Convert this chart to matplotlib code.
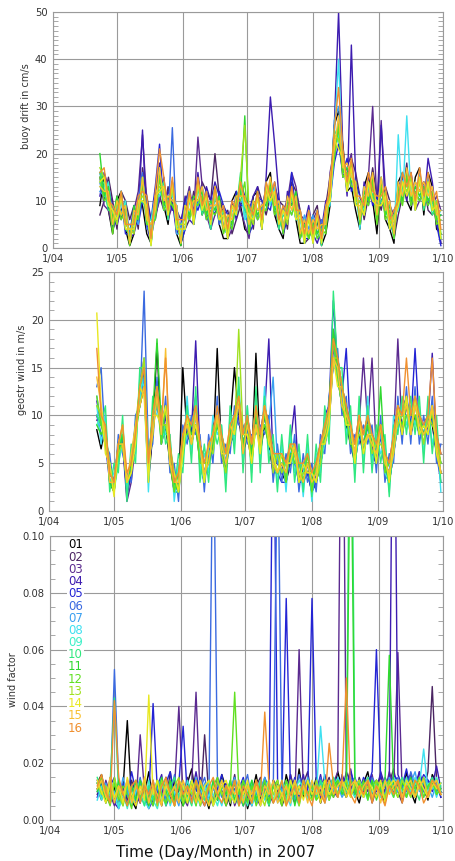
import numpy as np
import pandas as pd
import matplotlib
matplotlib.use("Agg")
import matplotlib.pyplot as plt
from matplotlib.ticker import MultipleLocator, FormatStrFormatter

# ---------------- data ----------------
dates = pd.date_range("2007-04-23", "2007-10-01", freq="2D")   # 81 samples
month_ticks = ["2007-04-01", "2007-05-01", "2007-06-01", "2007-07-01",
               "2007-08-01", "2007-09-01", "2007-10-01"]
month_labels = ["1/04", "1/05", "1/06", "1/07", "1/08", "1/09", "1/10"]
buoy_ids = ["01", "02", "03", "04", "05", "06", "07", "08",
            "09", "10", "11", "12", "13", "14", "15", "16"]
buoy_colors = ["#000000", "#4b2563", "#5b2a90", "#3d1cb0", "#2424d4", "#3b6ae0",
               "#3aa0f0", "#3ee0f0", "#3ef0c8", "#30e880", "#30d830", "#60e020",
               "#a0e020", "#e8e820", "#f8c030", "#f09030"]

# buoy drift (cm/s)
d01 = [9, 15, 8, 3, 10, 12, 4, 0.5, 3, 11,
       9, 3, 1, 12, 16, 9, 5, 14, 3, 0.5,
       10, 12, 5, 15, 7, 10, 4, 13, 5, 2,
       2, 10, 12, 9, 4, 3, 11, 12, 4, 14,
       16, 7, 4, 2, 11, 13, 6, 1, 1, 8,
       2, 6, 0.5, 3, 9, 26, 29, 22, 12, 13,
       8, 4, 13, 16, 10, 3, 15, 6, 4, 1,
       14, 16, 10, 8, 15, 17, 7, 16, 13, 4,
       3]
d02 = [7, 10, 15, 10, 4, 12, 10, 6, 9, 4,
       17, 11, 6, 6, 11, 8, 13, 8, 9, 1,
       4, 6, 12, 9, 14, 12, 10, 20, 11, 7,
       8, 3, 6, 9, 11, 9, 4, 13, 10, 7,
       11, 13, 10, 9, 4, 14, 12, 8, 1, 2,
       7, 9, 1, 9, 15, 19, 26, 17, 18, 19,
       16, 11, 6, 11, 17, 11, 8, 13, 10, 2,
       7, 11, 18, 9, 14, 12, 14, 8, 7, 9,
       1]
d03 = [15, 9, 8, 4, 11, 6, 9, 1, 8, 12,
       24, 10, 2, 7, 10, 15, 6, 9, 8, 6,
       9, 13, 7, 23.5, 13, 7, 4, 7, 10, 9,
       2, 4, 11, 8, 5, 2, 10, 6, 9, 12,
       13, 8, 5, 8, 10, 16, 13, 7, 6, 3,
       6, 8, 5, 4, 16, 21, 24, 15, 17, 20,
       9, 10, 7, 15, 30, 9, 27, 7, 9, 7,
       8, 13, 13, 15, 8, 10, 12, 15, 9, 11,
       8]
d04 = [11, 16, 13, 9, 5, 8, 10, 2, 3, 7,
       25, 5, 1, 12, 18, 9, 12, 10, 3, 5,
       11, 6, 5, 16, 8, 13, 10, 14, 11, 4,
       3, 10, 6, 14, 11, 8, 11, 13, 4, 15,
       32, 22, 11, 3, 12, 9, 11, 2, 5, 9,
       3, 1, 4, 10, 11, 26, 50, 21, 11, 43,
       15, 5, 14, 9, 14, 6, 26, 12, 4, 6,
       13, 15, 10, 16, 10, 15, 9, 19, 14, 6,
       1]
d05 = [14, 10, 12, 4, 6, 11, 3, 3, 9, 5,
       10, 10, 6, 13, 22, 8, 11, 8, 9, 1,
       4, 11, 10, 8, 11, 6, 9, 7, 12, 9,
       7, 5, 12, 9, 9, 3, 5, 11, 10, 9,
       8, 14, 9, 3, 6, 16, 7, 7, 2, 2,
       5, 7, 1, 9, 10, 18, 22, 16, 19, 12,
       14, 11, 8, 14, 9, 11, 9, 10, 4, 8,
       10, 13, 16, 10, 13, 12, 14, 9, 12, 5,
       0.5]
d06 = [16, 12, 9, 9, 6, 12, 5, 5, 4, 10,
       16, 4, 5, 7, 11, 13, 6, 25.5, 4, 4,
       9, 12, 5, 10, 13, 7, 9, 12, 5, 7,
       6, 9, 7, 14, 6, 8, 10, 8, 8, 13,
       10, 11, 4, 9, 6, 12, 6, 8, 2, 7,
       6, 3, 6, 4, 13, 19, 27, 15, 16, 14,
       10, 10, 7, 13, 10, 9, 10, 12, 5, 3,
       13, 10, 15, 9, 12, 10, 13, 10, 12, 7,
       7]
d07 = [12, 11, 12, 5, 9, 7, 8, 2, 7, 5,
       13, 9, 1, 10, 12, 14, 7, 14, 3, 3,
       4, 10, 7, 14, 8, 10, 4, 11, 9, 4,
       7, 4, 10, 10, 9, 4, 9, 6, 9, 8,
       13, 8, 10, 4, 9, 7, 11, 3, 7, 4,
       7, 2, 4, 7, 10, 27, 30, 20, 14, 17,
       13, 5, 12, 10, 15, 7, 14, 7, 10, 3,
       11, 16, 14, 14, 9, 16, 9, 15, 8, 10,
       2]
d08 = [13, 14, 9, 8, 6, 10, 5, 4, 5, 10,
       10, 8, 4, 7, 17, 8, 11, 11, 9, 2,
       9, 7, 10, 9, 12, 7, 9, 8, 10, 4,
       3, 8, 7, 13, 6, 8, 6, 11, 5, 14,
       9, 13, 5, 8, 7, 12, 6, 6, 1, 8,
       2, 7, 1, 8, 9, 24, 40, 17, 17, 15,
       14, 4, 13, 11, 14, 6, 15, 7, 8, 2,
       24, 10, 28, 11, 14, 11, 12, 10, 11, 6,
       8]
d09 = [14, 11, 14, 6, 9, 7, 10, 1, 8, 7,
       15, 5, 6, 11, 11, 13, 8, 13, 4, 5,
       6, 11, 6, 14, 8, 12, 5, 13, 6, 8,
       3, 9, 7, 15, 7, 8, 7, 11, 5, 13,
       10, 12, 6, 8, 6, 12, 7, 7, 2, 7,
       2, 8, 1, 9, 10, 20, 24, 20, 13, 18,
       10, 10, 8, 13, 11, 10, 9, 11, 5, 7,
       8, 14, 13, 14, 10, 15, 9, 14, 9, 10,
       3]
d10 = [16, 12, 8, 8, 6, 12, 4, 3, 4, 9,
       10, 8, 0.5, 11, 12, 14, 6, 14, 4, 4,
       4, 12, 5, 13, 7, 10, 4, 12, 6, 7,
       2, 9, 8, 16, 8, 7, 6, 12, 4, 12,
       11, 11, 4, 7, 6, 11, 6, 7, 1, 7,
       1, 7, 0.5, 8, 11, 25, 23, 19, 12, 17,
       9, 10, 7, 14, 11, 9, 10, 10, 4, 6,
       9, 13, 12, 14, 8, 15, 8, 13, 7, 9,
       2]
d11 = [20, 11, 13, 6, 11, 7, 9, 1, 9, 6,
       15, 6, 5, 8, 16, 9, 11, 9, 8, 0.5,
       9, 7, 11, 10, 12, 7, 10, 8, 11, 4,
       7, 5, 11, 11, 28, 5, 10, 7, 9, 9,
       14, 8, 9, 4, 10, 9, 12, 3, 5, 2,
       6, 3, 5, 4, 14, 20, 26, 16, 17, 14,
       14, 6, 12, 10, 15, 6, 14, 7, 9, 3,
       13, 10, 16, 10, 13, 11, 13, 10, 12, 6,
       7]
d12 = [15, 10, 11, 3, 10, 6, 8, 0.5, 7, 6,
       14, 5, 5, 6, 15, 8, 10, 9, 7, 1,
       9, 6, 10, 9, 11, 6, 8, 7, 9, 3,
       6, 4, 10, 10, 14, 3, 9, 6, 8, 8,
       13, 7, 9, 3, 9, 7, 10, 2, 5, 2,
       5, 2, 4, 3, 13, 19, 26, 15, 16, 13,
       13, 5, 11, 9, 14, 5, 13, 6, 8, 2,
       12, 9, 15, 9, 12, 10, 12, 9, 11, 5,
       6]
d13 = [17, 15, 10, 8, 5, 11, 5, 4, 3, 10,
       11, 9, 1, 11, 13, 13, 7, 13, 5, 5,
       5, 11, 6, 14, 9, 11, 6, 13, 7, 8,
       3, 9, 8, 15, 26, 8, 5, 11, 5, 12,
       10, 12, 6, 8, 5, 12, 7, 8, 2, 6,
       2, 7, 2, 8, 10, 24, 23, 20, 13, 18,
       10, 10, 7, 14, 10, 10, 9, 12, 5, 7,
       9, 14, 12, 15, 9, 14, 9, 14, 8, 10,
       3]
d14 = [14, 15, 9, 8, 6, 11, 4, 4, 4, 10,
       10, 9, 0.5, 11, 12, 13, 7, 14, 4, 4,
       4, 11, 5, 14, 8, 11, 5, 12, 6, 7,
       2, 9, 7, 14, 9, 7, 6, 11, 4, 13,
       10, 12, 5, 8, 6, 12, 6, 7, 1, 7,
       1, 7, 1, 8, 10, 23, 21, 19, 12, 17,
       9, 9, 7, 14, 10, 9, 9, 11, 4, 6,
       9, 14, 11, 14, 8, 15, 9, 14, 8, 9,
       2]
d15 = [13, 12, 12, 5, 10, 7, 9, 1, 8, 7,
       15, 6, 5, 8, 17, 10, 11, 10, 9, 1,
       9, 8, 10, 10, 13, 8, 9, 9, 10, 4,
       7, 6, 11, 11, 11, 5, 10, 8, 9, 10,
       15, 9, 10, 4, 11, 8, 11, 3, 6, 3,
       6, 4, 5, 5, 15, 21, 28, 17, 18, 15,
       14, 6, 13, 11, 16, 7, 15, 8, 10, 3,
       14, 11, 17, 11, 14, 12, 14, 11, 13, 7,
       8]
d16 = [16, 17, 10, 9, 7, 12, 5, 5, 5, 11,
       12, 11, 2, 12, 21, 15, 8, 15, 6, 6,
       6, 12, 7, 15, 9, 12, 6, 13, 7, 9,
       4, 10, 8, 14, 10, 9, 7, 12, 6, 14,
       11, 14, 6, 9, 7, 13, 8, 8, 3, 8,
       3, 8, 2, 9, 12, 25, 34, 21, 14, 19,
       11, 11, 9, 16, 12, 11, 11, 13, 6, 8,
       10, 16, 13, 16, 10, 17, 11, 16, 10, 12,
       4]

# geostrophic wind (m/s)
w01 = [8.5, 6.5, 9, 3, 2, 6, 8, 2, 5, 9,
       11, 13, 3, 8, 17.5, 7, 9, 5, 2, 2,
       15, 8, 7, 9, 5, 3, 7, 6, 17, 6,
       4, 9, 15, 10, 6, 8, 5, 16.5, 6, 9,
       7, 4, 6, 4, 3, 5, 7, 3, 5, 4,
       2, 3, 5, 7, 9, 16, 14, 11, 9, 7,
       5, 8, 6, 10, 6, 5, 9, 4, 3, 6,
       9, 10, 12, 8, 10, 8, 9, 10, 9, 6,
       4]
w02 = [9.5, 10, 7, 4, 3, 7, 8, 2, 4, 8,
       12, 15, 5, 10, 11, 9, 11, 7, 3, 4,
       8, 10, 9, 11, 7, 5, 5, 8, 11, 8,
       6, 8, 10, 12, 8, 10, 7, 11, 8, 11,
       9, 6, 5, 6, 5, 7, 6, 5, 4, 6,
       3, 5, 7, 9, 11, 18, 16, 13, 11, 9,
       7, 10, 8, 10, 8, 7, 9, 6, 5, 8,
       11, 9, 10, 10, 12, 10, 9, 8, 11, 8,
       6]
w03 = [10, 9, 8, 5, 3, 6, 7, 1, 3, 7,
       13, 16, 4, 9, 12, 8, 10, 6, 2, 3,
       6, 9, 9, 12, 6, 4, 6, 7, 10, 7,
       5, 7, 9, 11, 7, 9, 6, 10, 7, 10,
       8, 5, 4, 5, 3, 6, 6, 4, 3, 5,
       2, 4, 6, 8, 10, 17, 15, 12, 10, 8,
       6, 9, 16, 9, 16, 6, 8, 5, 4, 7,
       18, 8, 11, 9, 10, 9, 7, 9, 10, 7,
       5]
w04 = [11.5, 9, 8, 4, 3, 6, 8, 1.5, 4, 9,
       11, 15, 4, 8, 13, 8, 9, 6, 3, 2,
       7, 10, 8, 17.8, 6, 3, 6, 8, 9, 7,
       5, 7, 8, 10, 7, 9, 6, 9, 7, 10,
       18, 5, 5, 4, 4, 7, 11, 3, 4, 5,
       3, 4, 6, 8, 10, 19, 16, 12, 11, 8,
       6, 10, 7, 9, 7, 5, 8, 5, 3, 7,
       11, 10, 12, 9, 11, 10, 8, 9, 16.5, 7,
       4]
w05 = [10, 8, 7, 3, 2.5, 6, 7, 2, 4, 8,
       12, 14, 4, 9, 12, 8, 10, 6, 2, 3,
       7, 9, 8, 10, 6, 4, 5, 7, 10, 7,
       4, 8, 9, 11, 6, 9, 5, 10, 7, 10,
       8, 4, 4, 3, 3, 6, 5, 3, 3, 4,
       2, 3, 5, 10, 11, 22, 15, 12, 17, 8,
       5, 9, 6, 9, 6, 5, 8, 4, 3, 6,
       10, 8, 11, 9, 17, 9, 8, 8, 10, 6,
       3]
w06 = [13, 15, 7, 6, 2, 8, 6, 4, 3, 10,
       11, 23, 6, 7, 14, 7, 12, 4, 5, 1,
       9, 7, 10, 8, 8, 2, 8, 5, 12, 5,
       7, 6, 11, 9, 9, 7, 8, 8, 9, 8,
       10, 3, 7, 3, 6, 4, 8, 2, 6, 3,
       5, 2, 8, 6, 12, 15, 17, 10, 12, 6,
       8, 7, 9, 7, 9, 4, 10, 3, 6, 5,
       12, 7, 13, 7, 13, 7, 10, 7, 12, 5,
       7]
w07 = [12, 9, 8, 4, 3, 7, 8, 3, 5, 8,
       12, 14, 5, 9, 11, 8, 9, 7, 3, 2,
       8, 9, 7, 10, 6, 4, 6, 7, 11, 8,
       5, 8, 10, 11, 7, 9, 6, 11, 8, 10,
       9, 14, 5, 5, 4, 6, 7, 4, 4, 5,
       3, 4, 6, 8, 10, 16, 14, 12, 10, 8,
       6, 9, 7, 9, 8, 6, 8, 5, 4, 7,
       10, 9, 10, 9, 11, 9, 8, 10, 10, 7,
       5]
w08 = [11, 7, 10, 3, 4, 5, 9, 2, 6, 6,
       14, 13, 2, 11, 10, 10, 8, 8, 1, 5,
       5, 12, 6, 12, 4, 6, 4, 10, 8, 9,
       3, 10, 7, 13, 5, 11, 4, 12, 5, 13,
       6, 7, 3, 7, 2, 8, 4, 6, 1.5, 7,
       1, 6, 4, 10, 8, 19, 14, 14, 8, 10,
       4, 11, 5, 12, 5, 8, 6, 7, 2, 10,
       9, 11, 9, 11, 9, 11, 6, 11, 7, 9,
       2]
w09 = [9, 10, 7, 5, 2, 5, 7, 3, 5, 9,
       11, 16, 5, 10, 13, 7, 9, 7, 2, 2,
       6, 8, 9, 11, 5, 3, 7, 6, 9, 8,
       6, 7, 9, 12, 8, 10, 5, 9, 8, 9,
       9, 5, 6, 4, 5, 5, 6, 3, 4, 6,
       3, 4, 5, 7, 9, 18, 14, 11, 9, 9,
       5, 8, 8, 9, 6, 7, 9, 4, 3, 6,
       9, 10, 10, 8, 12, 8, 9, 8, 11, 6,
       5]
w10 = [10, 9, 11, 2, 5, 4, 10, 1, 7, 5,
       15, 15, 3, 12, 11, 11, 7, 8, 2, 6,
       4, 11, 5, 13, 3, 7, 3, 9, 7, 9,
       2, 11, 6, 14, 4, 11, 3, 13, 4, 12,
       5, 8, 2, 8, 3, 9, 3, 7, 2, 8,
       1.5, 7, 3, 11, 7, 23, 15, 15, 7, 11,
       3, 12, 4, 11, 4, 9, 5, 8, 1.5, 9,
       8, 12, 8, 12, 8, 12, 5, 12, 6, 10,
       3]
w11 = [9, 8, 9, 3, 2, 6, 8, 3, 5, 8,
       13, 15, 5, 10, 18, 9, 9, 6, 3, 2,
       7, 10, 8, 9, 7, 5, 5, 7, 9, 7,
       4, 8, 10, 12, 7, 9, 6, 10, 7, 10,
       8, 5, 4, 5, 4, 6, 6, 4, 3, 5,
       3, 5, 6, 8, 11, 19, 15, 13, 10, 7,
       6, 9, 7, 9, 7, 6, 13, 5, 3, 7,
       10, 9, 11, 9, 10, 10, 8, 9, 10, 7,
       5]
w12 = [12, 9, 7, 4, 3, 7, 7, 3, 4, 8,
       11, 13, 5, 8, 12, 7, 11, 5, 2, 4,
       8, 8, 9, 9, 5, 5, 5, 8, 9, 8,
       6, 7, 10, 12, 6, 10, 5, 9, 8, 9,
       7, 6, 4, 6, 3, 7, 5, 5, 3, 6,
       2, 5, 7, 7, 11, 18, 14, 11, 9, 9,
       5, 10, 6, 8, 8, 5, 9, 4, 5, 6,
       11, 8, 10, 10, 10, 8, 9, 8, 11, 6,
       4]
w13 = [11, 10, 8, 5, 2, 6, 7, 3, 4, 9,
       13, 16, 4, 10, 13, 9, 9, 7, 4, 2,
       6, 10, 7, 11, 7, 3, 7, 6, 10, 6,
       4, 9, 8, 19, 8, 8, 7, 11, 6, 11,
       9, 4, 6, 4, 5, 5, 7, 3, 4, 4,
       4, 3, 5, 9, 10, 16, 16, 13, 11, 7,
       7, 8, 8, 10, 6, 7, 7, 6, 3, 8,
       9, 10, 12, 8, 11, 10, 7, 10, 9, 8,
       5]
w14 = [20.7, 11, 6, 5, 1.5, 7, 9, 3, 4, 7,
       13, 12, 3, 10, 10, 9, 11, 5, 4, 2,
       6, 10, 7, 9, 7, 3, 7, 8, 10, 6,
       6, 9, 8, 12, 8, 8, 5, 9, 6, 11,
       7, 6, 4, 6, 5, 5, 7, 3, 5, 4,
       4, 3, 7, 7, 9, 16, 13, 13, 9, 9,
       5, 10, 6, 8, 8, 5, 9, 6, 3, 8,
       11, 8, 12, 8, 12, 8, 9, 8, 11, 6,
       4]
w15 = [14, 11, 8, 3, 3, 7, 7, 3, 6, 9,
       11, 13, 5, 8, 12, 8, 17, 5, 3, 3,
       8, 9, 7, 10, 7, 4, 5, 8, 10, 7,
       5, 7, 10, 11, 6, 9, 7, 9, 7, 11,
       8, 5, 4, 5, 4, 7, 6, 4, 3, 5,
       3, 4, 7, 8, 10, 16, 15, 11, 10, 9,
       6, 10, 7, 8, 7, 6, 9, 5, 4, 6,
       10, 10, 11, 8, 11, 9, 8, 9, 11, 7,
       4]
w16 = [17, 10, 9, 4, 3, 7, 9, 4, 5, 8,
       13, 15, 5, 10, 13, 9, 16, 7, 3, 4,
       8, 10, 9, 11, 7, 5, 7, 8, 11, 8,
       6, 9, 10, 12, 8, 10, 7, 11, 8, 11,
       9, 6, 6, 6, 5, 7, 7, 5, 5, 6,
       4, 5, 7, 9, 11, 18, 16, 13, 11, 9,
       7, 10, 8, 10, 8, 7, 9, 6, 5, 8,
       11, 10, 16, 10, 12, 10, 9, 10, 16, 8,
       6]

# wind factor (in units of 0.001)
f01 = [13, 16, 8, 6, 12, 5, 11, 35, 7, 4,
       14, 9, 17, 6, 13, 5, 15, 7, 14, 9,
       5, 13, 18, 7, 14, 9, 4, 12, 7, 16,
       11, 5, 14, 6, 12, 4, 9, 16, 7, 12,
       5, 14, 9, 6, 16, 10, 6, 18, 8, 13,
       9, 15, 6, 14, 8, 10, 17, 11, 8, 15,
       10, 6, 13, 17, 8, 14, 10, 6, 15, 9,
       13, 8, 17, 10, 6, 15, 11, 7, 16, 13,
       10]
f02 = [9, 13, 6, 15, 8, 5, 12, 7, 14, 9,
       6, 15, 5, 12, 8, 14, 6, 17, 5, 12,
       8, 15, 6, 13, 5, 30, 8, 6, 14, 10,
       5, 9, 16, 6, 13, 8, 5, 12, 15, 8,
       6, 14, 10, 5, 9, 16, 10, 6, 13, 17,
       8, 14, 6, 12, 15, 8, 13, 10, 17, 13,
       8, 15, 10, 13, 6, 11, 16, 8, 13, 18,
       10, 6, 14, 16, 8, 13, 10, 17, 47, 14,
       8]
f03 = [11, 7, 14, 9, 5, 12, 6, 14, 9, 5,
       30, 10, 6, 14, 5, 9, 15, 6, 11, 40,
       8, 5, 13, 45, 6, 12, 9, 5, 14, 9,
       6, 12, 5, 9, 14, 6, 12, 8, 5, 14,
       9, 6, 13, 10, 8, 16, 6, 60, 10, 14,
       8, 13, 10, 16, 8, 13, 17, 200, 13, 10,
       15, 8, 13, 10, 16, 8, 13, 10, 17, 12,
       59, 10, 15, 12, 8, 17, 12, 9, 15, 12,
       10]
f04 = [14, 10, 8, 13, 6, 4, 11, 5, 12, 7,
       13, 8, 4, 7, 12, 16, 5, 9, 6, 13,
       10, 6, 9, 17, 8, 5, 12, 6, 15, 9,
       13, 6, 11, 9, 5, 12, 7, 14, 9, 11,
       6, 14, 8, 12, 6, 13, 9, 11, 16, 8,
       13, 10, 16, 8, 14, 10, 8, 16, 12, 18,
       10, 13, 8, 15, 13, 10, 17, 12, 14, 200,
       16, 12, 10, 15, 12, 17, 10, 14, 12, 19,
       11]
f05 = [8, 13, 9, 12, 15, 6, 13, 8, 17, 10,
       6, 13, 8, 41, 10, 6, 13, 17, 8, 13,
       33, 8, 14, 10, 15, 8, 13, 6, 11, 16,
       8, 13, 6, 11, 15, 8, 13, 10, 6, 15,
       11, 160, 12, 8, 78, 10, 15, 8, 13, 10,
       78, 13, 8, 15, 10, 13, 9, 15, 10, 17,
       12, 10, 15, 12, 17, 60, 14, 12, 10, 16,
       14, 12, 18, 10, 14, 12, 16, 14, 10, 13,
       8]
f06 = [10, 15, 11, 7, 53, 13, 6, 11, 5, 9,
       15, 7, 12, 9, 14, 6, 11, 9, 16, 6,
       11, 8, 14, 6, 11, 15, 8, 150, 13, 8,
       12, 6, 14, 9, 11, 16, 6, 9, 13, 10,
       8, 13, 140, 10, 6, 13, 9, 16, 10, 8,
       13, 10, 15, 8, 13, 10, 15, 12, 8, 13,
       15, 10, 13, 8, 15, 12, 10, 15, 12, 9,
       15, 12, 10, 17, 12, 15, 10, 12, 15, 10,
       13]
f07 = [11, 8, 13, 6, 10, 7, 15, 9, 5, 12,
       7, 13, 9, 5, 11, 15, 6, 13, 9, 5,
       13, 9, 6, 15, 9, 13, 6, 11, 9, 14,
       7, 11, 15, 9, 5, 13, 9, 6, 11, 15,
       9, 13, 6, 11, 9, 14, 7, 11, 9, 15,
       11, 8, 13, 6, 11, 15, 12, 8, 11, 15,
       9, 13, 11, 15, 8, 13, 11, 9, 15, 12,
       10, 15, 8, 13, 17, 10, 15, 12, 8, 13,
       11]
f08 = [7, 12, 8, 14, 9, 4, 8, 12, 5, 10,
       14, 7, 4, 10, 14, 7, 12, 5, 10, 8,
       12, 7, 14, 9, 5, 12, 8, 14, 9, 5,
       12, 7, 10, 14, 7, 12, 5, 10, 14, 7,
       12, 9, 7, 14, 9, 5, 12, 9, 14, 7,
       12, 9, 33, 13, 9, 11, 15, 10, 13, 9,
       13, 10, 8, 15, 10, 13, 8, 13, 10, 15,
       13, 8, 13, 10, 15, 12, 25, 10, 13, 8,
       13]
f09 = [13, 7, 12, 9, 14, 5, 10, 4, 12, 7,
       10, 5, 14, 7, 4, 11, 14, 6, 12, 9,
       6, 14, 9, 5, 12, 7, 14, 9, 5, 12,
       9, 14, 6, 12, 9, 5, 14, 7, 10, 12,
       14, 7, 12, 9, 14, 7, 10, 14, 11, 7,
       14, 9, 12, 14, 7, 11, 14, 9, 15, 11,
       8, 14, 11, 7, 14, 11, 8, 14, 11, 8,
       14, 10, 15, 8, 13, 11, 8, 13, 11, 15,
       10]
f10 = [15, 10, 7, 13, 43, 9, 5, 12, 7, 14,
       9, 5, 12, 7, 14, 9, 5, 12, 15, 7,
       12, 9, 5, 14, 9, 7, 12, 5, 9, 14,
       7, 12, 9, 5, 14, 9, 12, 7, 14, 9,
       5, 12, 9, 14, 7, 12, 9, 5, 14, 9,
       12, 7, 14, 9, 12, 15, 9, 13, 10, 200,
       13, 9, 11, 15, 8, 13, 11, 7, 13, 9,
       11, 15, 8, 13, 11, 7, 14, 11, 15, 9,
       12]
f11 = [10, 14, 6, 12, 7, 14, 9, 5, 12, 7,
       14, 9, 5, 12, 7, 15, 9, 14, 7, 12,
       5, 9, 14, 7, 12, 9, 5, 14, 7, 12,
       9, 14, 7, 12, 5, 9, 14, 7, 12, 9,
       7, 12, 14, 7, 9, 14, 5, 12, 9, 14,
       7, 12, 9, 14, 7, 12, 14, 9, 12, 150,
       9, 13, 11, 8, 14, 7, 12, 14, 58, 12,
       8, 13, 11, 15, 8, 13, 11, 8, 13, 11,
       9]
f12 = [11, 15, 9, 5, 13, 7, 12, 9, 4, 14,
       7, 12, 9, 5, 14, 9, 6, 12, 5, 14,
       9, 6, 12, 5, 14, 9, 6, 12, 15, 9,
       5, 12, 45, 9, 14, 6, 12, 5, 9, 14,
       6, 12, 9, 5, 14, 9, 12, 6, 14, 9,
       12, 7, 9, 14, 11, 8, 14, 11, 8, 14,
       11, 8, 14, 7, 12, 14, 9, 12, 14, 8,
       14, 11, 8, 14, 11, 15, 8, 12, 14, 9,
       11]
f13 = [13, 9, 12, 6, 15, 9, 5, 14, 7, 12,
       9, 14, 6, 12, 5, 14, 9, 6, 12, 15,
       6, 12, 9, 14, 5, 9, 12, 6, 14, 9,
       12, 6, 14, 5, 9, 12, 6, 14, 9, 5,
       12, 9, 14, 6, 12, 9, 14, 5, 12, 9,
       7, 14, 9, 12, 7, 14, 9, 12, 14, 8,
       12, 14, 8, 12, 7, 14, 12, 8, 14, 11,
       8, 14, 11, 8, 14, 11, 15, 8, 12, 14,
       9]
f14 = [14, 10, 6, 13, 8, 12, 6, 15, 9, 5,
       12, 7, 44, 9, 14, 6, 12, 9, 5, 14,
       12, 6, 14, 9, 6, 12, 14, 5, 9, 12,
       14, 9, 6, 12, 9, 14, 6, 12, 5, 9,
       14, 6, 12, 9, 5, 14, 9, 12, 7, 14,
       9, 12, 6, 14, 9, 12, 8, 14, 11, 8,
       14, 11, 8, 14, 11, 8, 14, 6, 12, 14,
       11, 8, 14, 11, 8, 14, 11, 8, 14, 11,
       13]
f15 = [11, 14, 8, 15, 6, 12, 9, 14, 6, 12,
       9, 15, 6, 12, 9, 5, 14, 9, 12, 6,
       14, 9, 12, 6, 14, 9, 5, 12, 9, 14,
       6, 12, 9, 14, 6, 12, 9, 14, 6, 12,
       9, 14, 6, 9, 12, 6, 14, 9, 12, 6,
       14, 9, 12, 6, 14, 9, 12, 14, 8, 12,
       14, 8, 12, 14, 8, 12, 6, 14, 9, 12,
       14, 8, 12, 14, 8, 12, 14, 8, 12, 14,
       9]
f16 = [12, 16, 10, 6, 42, 15, 9, 5, 12, 14,
       6, 12, 9, 14, 6, 12, 15, 9, 5, 14,
       9, 12, 6, 14, 9, 5, 12, 15, 9, 6,
       12, 9, 14, 5, 12, 9, 6, 14, 9, 38,
       12, 6, 9, 14, 5, 9, 12, 6, 14, 9,
       5, 12, 9, 6, 27, 12, 8, 14, 50, 9,
       6, 12, 9, 14, 6, 12, 9, 5, 12, 9,
       14, 6, 12, 9, 14, 12, 6, 9, 14, 12,
       9]

drift = [d01, d02, d03, d04, d05, d06, d07, d08, d09, d10, d11, d12, d13, d14, d15, d16]
wind = [w01, w02, w03, w04, w05, w06, w07, w08, w09, w10, w11, w12, w13, w14, w15, w16]
factor = [f01, f02, f03, f04, f05, f06, f07, f08, f09, f10, f11, f12, f13, f14, f15, f16]

# ---------------- figure ----------------
W, H = 456, 861
fig = plt.figure(figsize=(W / 100, H / 100), dpi=100)
fig.patch.set_facecolor("white")

def px_axes(left, top, right, bottom):
    return fig.add_axes([left / W, 1 - bottom / H, (right - left) / W, (bottom - top) / H])

ax1 = px_axes(53, 12, 443, 248)
ax2 = px_axes(49.5, 272, 443, 511)
ax3 = px_axes(50, 536, 443, 820)

xt = [pd.Timestamp(t) for t in month_ticks]
gridc = "#9a9a9a"
txtc = "#333333"

def style(ax, ymax, major, minor, fmt):
    ax.set_xlim(xt[0], xt[-1])
    ax.set_ylim(0, ymax)
    ax.set_xticks(xt)
    ax.set_xticklabels(month_labels)
    ax.yaxis.set_major_locator(MultipleLocator(major))
    ax.yaxis.set_minor_locator(MultipleLocator(minor))
    ax.yaxis.set_major_formatter(FormatStrFormatter(fmt))
    ax.grid(True, which="major", color=gridc, lw=0.8)
    ax.set_axisbelow(True)
    ax.tick_params(which="major", direction="in", length=0, labelsize=7.2,
                   labelcolor=txtc, pad=4)
    ax.tick_params(axis="y", which="minor", direction="in", left=True, right=True,
                   length=3.5, width=0.6, color=gridc)
    ax.tick_params(axis="x", which="minor", bottom=False)
    for s in ax.spines.values():
        s.set_color(gridc)
        s.set_linewidth(0.8)

for ax, data, scale in [(ax1, drift, 1.0), (ax2, wind, 1.0), (ax3, factor, 0.001)]:
    for vals, col in zip(data, buoy_colors):
        ax.plot(dates, np.asarray(vals, float) * scale, color=col, lw=1.0)

style(ax1, 50, 10, 1, "%d")
style(ax2, 25, 5, 1, "%d")
style(ax3, 0.10, 0.02, 0.005, "%.2f")

# legend of buoy numbers
for k, (bid, col) in enumerate(zip(buoy_ids, buoy_colors)):
    ypx = 545 + k * 12.2
    ax3.text((68 - 50) / 393, (820 - ypx) / 284, bid, color=col, fontsize=8.5,
             ha="left", va="center", transform=ax3.transAxes,
             bbox=dict(facecolor="white", edgecolor="none", pad=0.6))

fig.text(26 / W, 1 - 106 / H, "buoy drift in cm/s", rotation=90, fontsize=7,
         ha="center", va="center", color=txtc)
fig.text(22.5 / W, 1 - 370 / H, "geostr wind in m/s", rotation=90, fontsize=7,
         ha="center", va="center", color=txtc)
fig.text(13.5 / W, 1 - 680 / H, "wind factor", rotation=90, fontsize=7,
         ha="center", va="center", color=txtc)
fig.text(216 / W, 1 - 852 / H, "Time (Day/Month) in 2007", fontsize=11,
         ha="center", va="center", color="#111111")

fig.savefig("out.png", dpi=100, facecolor="white")
